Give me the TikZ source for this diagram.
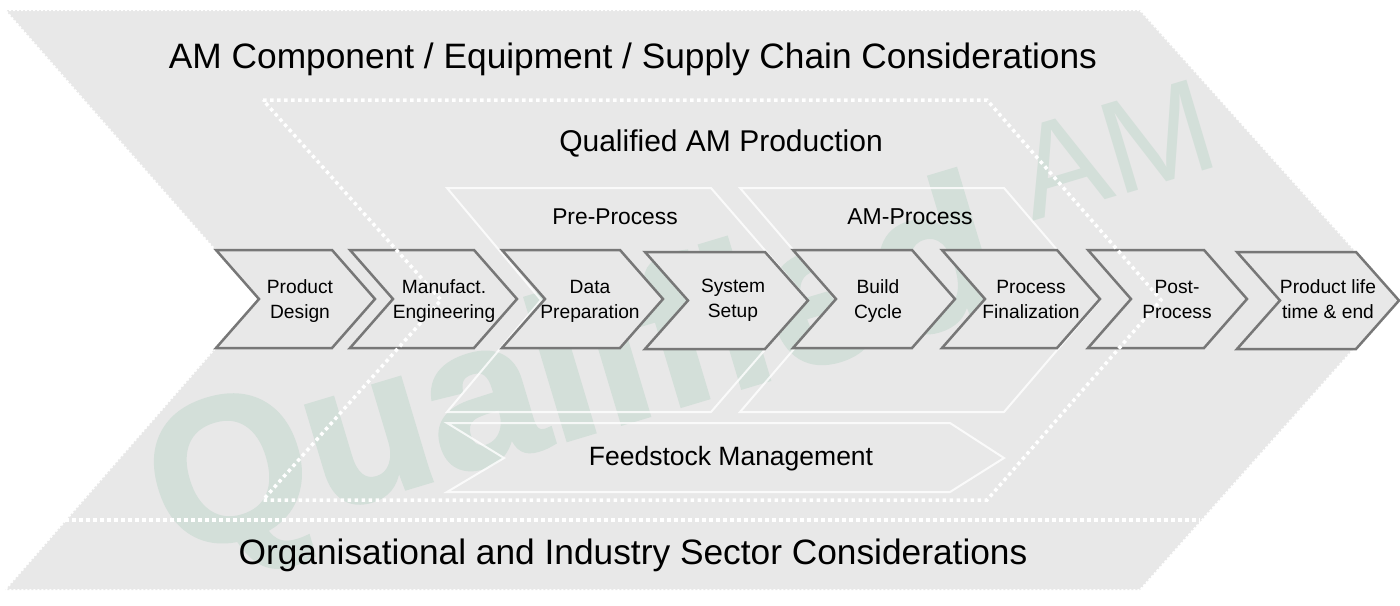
\documentclass[tikz,border=0pt]{standalone}
\usepackage{fontspec}
\setmainfont{Liberation Sans}
\newfontfamily\markfont[BoldFeatures={FakeBold=1.6}]{Liberation Sans}
\definecolor{bandgrey}{HTML}{E8E8E8}
\definecolor{chevgrey}{HTML}{777777}
\definecolor{markgreen}{HTML}{D3DFD9}
\newcommand{\fsize}[1]{\fontsize{#1}{25}\selectfont}
\begin{document}
\begin{tikzpicture}[
						x=1pt, y=-1pt,
						band/.style={fill=bandgrey, draw=white, line width=2pt, dash pattern=on 2pt off 2pt},
						dotline/.style={draw=white, line width=3.5pt, dash pattern=on 3.5pt off 3.5pt},
						frame/.style={draw=white, opacity=.8, line width=2pt, line join=miter},
						chev/.style={fill=bandgrey, draw=chevgrey, line width=2.5pt, line join=miter},
						steplabel/.style={align=center, text=black, inner sep=0pt, font=\fsize{19.2}},
						title/.style={inner sep=0pt, text=black, font=\fsize{35.3}},
						wmark/.style={inner sep=0pt, anchor=base west, rotate=16.7, text=markgreen}
					]
					\useasboundingbox (0,0) rectangle (1400,605);
					% outer band
					\draw[band] (5,10) -- (1140,10) -- (1398,299) -- (1140,590) -- (5,590) -- (258,299) -- cycle;
					% watermark
					\node[wmark, font=\fsize{205}\markfont\bfseries] (markbig) at (172,559) {Qualified};
					\node[wmark, font=\fsize{133}] (marksmall) at (1032,222) {AM};
					% white frames
					\draw[frame] (447,188) -- (711,188) -- (808,300) -- (711,412) -- (447,412) -- (541,300) -- cycle;
					\draw[frame] (740,188) -- (1004,188) -- (1100,300) -- (1004,412) -- (740,412) -- (836,300) -- cycle;
					\draw[frame] (447,423) -- (950,423) -- (1004,458) -- (950,492) -- (447,492) -- (504,458) -- cycle;
					% chevrons
					\foreach \lft/\rgt/\ytop/\ybot in {216/332/250/348, 350/474/250/348, 502/620/250/348, 645/765/252/349,
							793/912/250/348, 942/1057/250/348, 1088/1204/250/348, 1237/1356/252/349}
						\draw[chev] (\lft,\ytop) -- (\rgt,\ytop) -- ({\rgt+43},{(\ytop+\ybot)/2}) -- (\rgt,\ybot) -- (\lft,\ybot) -- ({\lft+43},{(\ytop+\ybot)/2}) -- cycle;
					% dotted lines
					\draw[dotline] (263,100) -- (987,100) -- (1161,300) -- (987,500) -- (263,500) -- (441,300) -- cycle;
					\draw[dotline] (65,520) -- (1200,520);
					% step labels
					\node[steplabel] (design) at (300,301) {Product\\Design};
					\node[steplabel] (engineering) at (444,301) {Manufact.\\Engineering};
					\node[steplabel] (preparation) at (590,301.5) {Data\\Preparation};
					\node[steplabel] (setup) at (733,300) {System\\Setup};
					\node[steplabel] (build) at (878,301) {Build\\Cycle};
					\node[steplabel] (finalization) at (1031,299) {Process\\Finalization};
					\node[steplabel] (post) at (1177,299) {Post-\\Process};
					\node[steplabel] (lifetime) at (1328,299.5) {Product life\\time \& end};
					% titles
					\node[title] (component) at (633,59) {AM Component / Equipment / Supply Chain Considerations};
					\node[title] (production) at (721,143) {\fsize{30}Qualified AM Production};
					\node[title] (preprocess) at (615,217) {\fsize{22.8}Pre-Process};
					\node[title] (amprocess) at (910,217) {\fsize{23}AM-Process};
					\node[title] (feedstock) at (731,459) {\fsize{26.5}Feedstock Management};
					\node[title] (organisation) at (633,555) {Organisational and Industry Sector Considerations};
					\end{tikzpicture}
\end{document}
